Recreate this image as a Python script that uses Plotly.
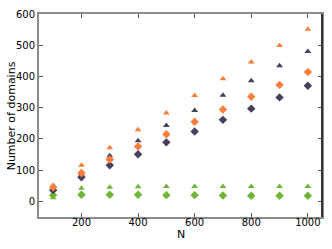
import plotly.graph_objects as go

N = [100, 200, 300, 400, 500, 600, 700, 800, 900, 1000]
orange_tri = [51, 116, 172, 229, 283, 339, 393, 446, 499, 551]
navy_tri = [42, 88, 146, 194, 243, 291, 340, 386, 434, 480]
orange_dia = [45, 91, 134, 176, 215, 255, 294, 335, 373, 414]
navy_dia = [36, 77, 116, 151, 189, 224, 261, 297, 333, 370]
green_tri = [12, 42, 45, 47, 48, 48, 48, 48, 48, 48]
green_dia = [20, 21, 21, 21, 20, 20, 19, 18, 18, 18]

ORANGE = "#fb7e3c"
NAVY = "#463f5e"
GREEN = "#6fb536"

fig = go.Figure()
series = [
    (green_tri, GREEN, "triangle-up", 6),
    (green_dia, GREEN, "diamond", 6.5),
    (navy_tri, NAVY, "triangle-up", 6),
    (navy_dia, NAVY, "diamond", 6.5),
    (orange_tri, ORANGE, "triangle-up", 6),
    (orange_dia, ORANGE, "diamond", 6.5),
]
for ys, col, sym, sz in series:
    fig.add_trace(go.Scatter(x=N, y=ys, mode="markers",
                             marker=dict(symbol=sym, size=sz, color=col, line=dict(width=0)),
                             showlegend=False))

axis_common = dict(showgrid=False, zeroline=False, showline=True, linecolor="#8c8c8c",
                   linewidth=2, mirror="ticks", ticks="inside", ticklen=4, tickwidth=1,
                   tickcolor="#555555", tickfont=dict(family="DejaVu Sans", size=10, color="black"))

fig.update_xaxes(range=[50, 1050], tickvals=[200, 400, 600, 800, 1000],
                 ticklabelstandoff=-5, **axis_common)
fig.update_yaxes(range=[-50, 600], tickvals=[0, 100, 200, 300, 400, 500, 600],
                 **axis_common)

fig.add_shape(type="line", xref="paper", yref="paper", x0=1, x1=1, y0=0, y1=1,
              line=dict(color="#333333", width=2))

fig.add_annotation(text="N", xref="paper", yref="paper", x=0.5, y=-0.088,
                   xanchor="center", yanchor="middle", showarrow=False,
                   font=dict(family="DejaVu Sans", size=11, color="black"))
fig.add_annotation(text="Number of domains", xref="paper", yref="paper", x=-0.096, y=0.5,
                   xanchor="center", yanchor="middle", textangle=-90, showarrow=False,
                   font=dict(family="DejaVu Sans", size=11, color="black"))

fig.update_layout(width=332, height=249, margin=dict(l=39, r=8, t=12, b=32),
                  plot_bgcolor="white", paper_bgcolor="white")

fig.write_html("out.html", config={"displayModeBar": False},
               post_script="document.body.style.margin='0';document.body.style.overflow='hidden';")
